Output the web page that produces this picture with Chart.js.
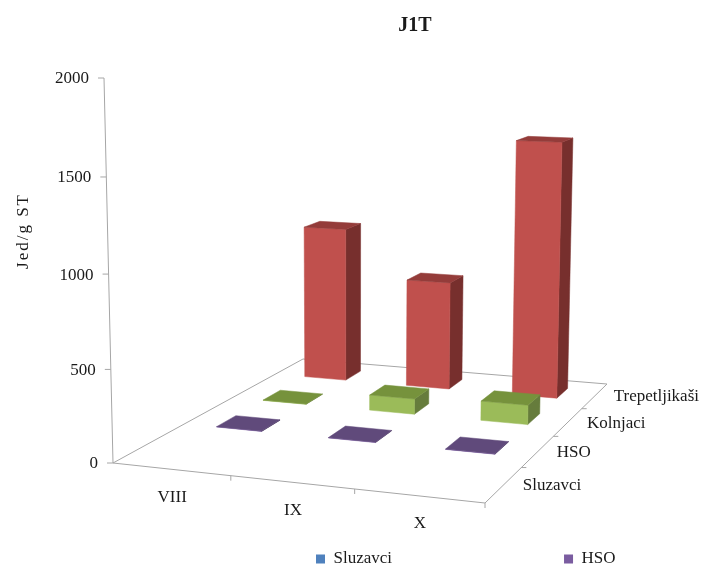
<!DOCTYPE html>
<html>
<head>
<meta charset="utf-8">
<title>J1T</title>
<script src="https://cdn.jsdelivr.net/npm/chart.js@4/dist/chart.umd.min.js"></script>
<style>
    html, body { margin: 0; padding: 0; background: #fff; }
    canvas { display: block; }
</style>
</head>
<body>
<canvas id="chart" width="704" height="567"></canvas>
<script>
const categories = ['VIII', 'IX', 'X'];
const seriesNames = ['Sluzavci', 'HSO', 'Kolnjaci', 'Trepetljikaši'];
const sluzavci = [0, 0, 0];
const hso = [2, 2, 2];
const kolnjaci = [2, 90, 112];
const trepetljikasi = [946, 656, 1529];
const yTicks = [0, 500, 1000, 1500, 2000];

const frontColors = ['#4F81BD', '#7A5CA0', '#9BBB59', '#C0504D'];
const topColors = ['#3F6797', '#604A7B', '#76923C', '#943C3A'];
const sideColors = ['#2F4D71', '#4B3A60', '#667C3C', '#772F2D'];
const legendSeries = ['Sluzavci', 'HSO'];

const serif = '"Liberation Serif", "Times New Roman", serif';
const axisColor = '#a6a6a6';
const textColor = '#1a1a1a';

// perspective of the floor (u along categories, v along series, t up), fitted to the reference
function project(u, v, t) {
    const w = 1 - 0.07291 * u + 0.25294 * v - 0.0366 * t;
    return {
        x: (336.64 * u + 266.64 * v - 12.8 * t + 113) / w,
        y: (3.33 * u - 13.19 * v - 387.85 * t + 463) / w
    };
}

function poly(ctx, points, color) {
    ctx.beginPath();
    points.forEach((p, i) => i ? ctx.lineTo(p.x, p.y) : ctx.moveTo(p.x, p.y));
    ctx.closePath();
    ctx.fillStyle = color;
    ctx.strokeStyle = color;
    ctx.lineWidth = 0.5;
    ctx.fill();
    ctx.stroke();
}

function line(ctx, a, b) {
    ctx.beginPath();
    ctx.moveTo(a.x, a.y);
    ctx.lineTo(b.x, b.y);
    ctx.stroke();
}

function label(ctx, text, x, y, align) {
    ctx.textAlign = align;
    ctx.textBaseline = 'middle';
    ctx.fillStyle = textColor;
    ctx.font = '17px ' + serif;
    ctx.fillText(text, x, y);
}

function drawAxes(chart) {
    const ctx = chart.ctx;
    const { x, y, z } = chart.scales;
    ctx.strokeStyle = axisColor;
    ctx.lineWidth = 1;
    line(ctx, project(0, 0, 0), project(1, 0, 0));
    line(ctx, project(1, 0, 0), project(1, 1, 0));
    line(ctx, project(1, 1, 0), project(0, 1, 0));
    line(ctx, project(0, 1, 0), project(0, 0, 0));
    line(ctx, project(0, 0, 0), project(0, 0, 1));

    // value axis
    y.ticks.forEach(tick => {
        const p = project(0, 0, heightOf(y, tick.value));
        ctx.strokeStyle = axisColor;
        line(ctx, p, { x: p.x - 6, y: p.y });
        label(ctx, String(tick.value), p.x - 15, p.y + 1, 'right');
    });

    // category axis
    x.getLabels().forEach((name, i) => {
        const c = project(x.getDecimalForPixel(x.getPixelForValue(i)), 0, 0);
        label(ctx, name, c.x + 1, c.y + 28, 'center');
    });
    for (let i = 1; i <= categories.length; i++) {
        const p = project(i / categories.length, 0, 0);
        ctx.strokeStyle = axisColor;
        line(ctx, p, { x: p.x, y: p.y + 5 });
    }

    // series axis
    z.getLabels().forEach((name, i) => {
        const c = project(1, z.getDecimalForPixel(z.getPixelForValue(i)), 0);
        label(ctx, name, c.x + 19, c.y + 1, 'left');
    });
    for (let i = 1; i < seriesNames.length; i++) {
        const p = project(1, i / seriesNames.length, 0);
        ctx.strokeStyle = axisColor;
        line(ctx, p, { x: p.x + 5, y: p.y });
    }

    ctx.save();
    ctx.translate(24, 231);
    ctx.rotate(-Math.PI / 2);
    ctx.letterSpacing = '2px';
    label(ctx, 'Jed/g ST', 0, 0, 'center');
    ctx.restore();
}

function heightOf(scale, value) {
    return (scale.bottom - scale.getPixelForValue(value)) / scale.height;
}

function drawBox(ctx, u, v, t, s) {
    const du = 0.068;
    const dv = 0.05;
    const fl = project(u - du, v - dv, 0);
    const fr = project(u + du, v - dv, 0);
    const br = project(u + du, v + dv, 0);
    const tfl = project(u - du, v - dv, t);
    const tfr = project(u + du, v - dv, t);
    const tbr = project(u + du, v + dv, t);
    const tbl = project(u - du, v + dv, t);
    poly(ctx, [fr, br, tbr, tfr], sideColors[s]);
    poly(ctx, [fl, fr, tfr, tfl], frontColors[s]);
    poly(ctx, [tfl, tfr, tbr, tbl], topColors[s]);
}

const bars3d = {
    id: 'bars3d',
    afterLayout(chart) {
        // the reference keeps title and legend away from the page centre
        chart.titleBlock.left += 63;
        chart.titleBlock.right += 63;
        chart.legend.left = 144;
        chart.legend.right = chart.width + 172;
        chart.legend.top = 378.5;
    },
    beforeDatasetsDraw(chart) {
        const { x, y, z } = chart.scales;
        drawAxes(chart);
        // back row first, so the front rows cover it
        for (let s = chart.data.datasets.length - 1; s >= 0; s--) {
            const values = chart.data.datasets[s].data;
            const v = z.getDecimalForPixel(z.getPixelForValue(s));
            values.forEach((value, i) => {
                if (!value) return;
                const u = x.getDecimalForPixel(x.getPixelForValue(i));
                drawBox(chart.ctx, u, v, heightOf(y, value), s);
            });
        }
        return false;
    }
};

new Chart(document.getElementById('chart'), {
    type: 'bar',
    data: {
        labels: categories,
        datasets: [sluzavci, hso, kolnjaci, trepetljikasi].map((values, s) => ({
            label: seriesNames[s],
            data: values,
            backgroundColor: frontColors[s]
        }))
    },
    options: {
        responsive: false,
        animation: false,
        scales: {
            x: { type: 'category', offset: true, display: false },
            y: {
                type: 'linear',
                min: yTicks[0],
                max: yTicks[yTicks.length - 1],
                afterBuildTicks: scale => { scale.ticks = yTicks.map(value => ({ value })); },
                display: false
            },
            z: { type: 'category', axis: 'x', labels: seriesNames, offset: true, display: false }
        },
        plugins: {
            title: {
                display: true,
                text: 'J1T',
                color: textColor,
                font: { family: serif, size: 20, weight: 'bold' },
                padding: { top: 14, bottom: 20 }
            },
            legend: {
                position: 'bottom',
                align: 'start',
                labels: {
                    color: textColor,
                    boxWidth: 9,
                    boxHeight: 9,
                    padding: 172,
                    font: { family: serif, size: 17 },
                    filter: item => legendSeries.includes(item.text)
                }
            },
            tooltip: { enabled: false }
        }
    },
    plugins: [bars3d]
});
</script>
</body>
</html>
